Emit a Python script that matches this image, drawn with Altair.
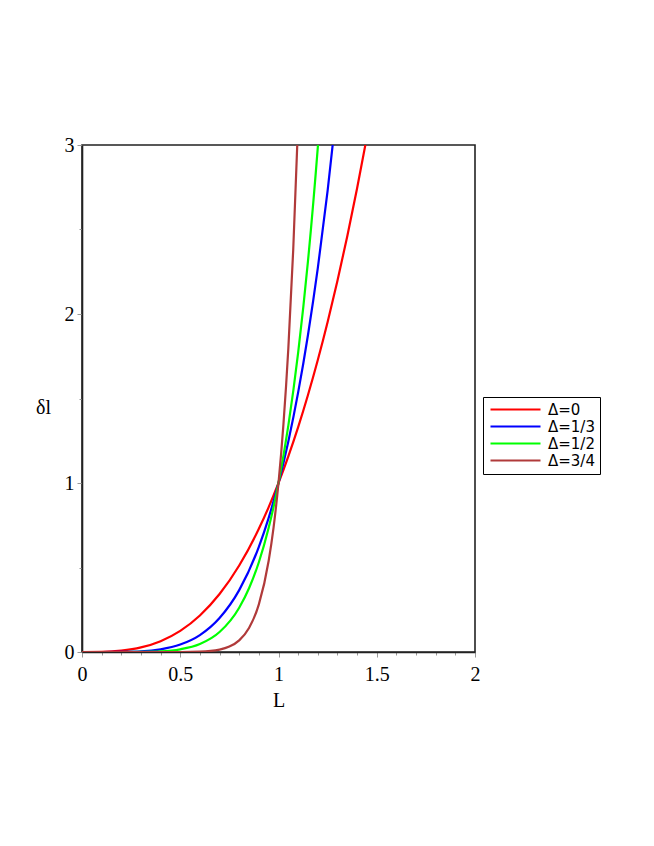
import altair as alt
import pandas as pd

# Values
red_L = [0.0, 0.1, 0.2, 0.3, 0.4, 0.5, 0.6, 0.7, 0.8, 0.9, 0.95, 1.0, 1.05, 1.1, 1.15, 1.2, 1.25, 1.3, 1.35, 1.4, 1.45]
red_v = [0.0, 0.001, 0.008, 0.027, 0.064, 0.125, 0.216, 0.343, 0.512, 0.729, 0.857, 1.0, 1.158, 1.331, 1.521, 1.728, 1.953, 2.197, 2.460, 2.744, 3.049]

blue_L = [0.0, 0.1, 0.2, 0.3, 0.4, 0.5, 0.6, 0.7, 0.8, 0.9, 0.95, 1.0, 1.05, 1.1, 1.15, 1.2, 1.25, 1.3]
blue_v = [0.0, 0.0, 0.001, 0.004, 0.016, 0.044, 0.100, 0.201, 0.366, 0.622, 0.794, 1.0, 1.246, 1.536, 1.876, 2.271, 2.730, 3.256]

green_L = [0.0, 0.1, 0.2, 0.3, 0.4, 0.5, 0.6, 0.7, 0.8, 0.85, 0.9, 0.95, 1.0, 1.05, 1.1, 1.15, 1.2, 1.22]
green_v = [0.0, 0.0, 0.0, 0.001, 0.004, 0.016, 0.047, 0.118, 0.262, 0.377, 0.531, 0.735, 1.0, 1.340, 1.772, 2.313, 2.986, 3.297]

brown_L = [0.0, 0.2, 0.4, 0.5, 0.6, 0.7, 0.75, 0.8, 0.85, 0.9, 0.95, 0.975, 1.0, 1.025, 1.05, 1.075, 1.1]
brown_v = [0.0, 0.0, 0.0, 0.0, 0.002, 0.014, 0.032, 0.069, 0.142, 0.282, 0.540, 0.738, 1.0, 1.345, 1.796, 2.382, 3.138]

series_names = ["Δ=0", "Δ=1/3", "Δ=1/2", "Δ=3/4"]
series_colors = ["#ff0000", "#0000ff", "#00ff00", "#b03a3a"]

x_ticks = [0.0, 0.1, 0.2, 0.3, 0.4, 0.5, 0.6, 0.7, 0.8, 0.9, 1.0, 1.1, 1.2, 1.3, 1.4, 1.5, 1.6, 1.7, 1.8, 1.9, 2.0]
y_ticks = [0.0, 0.5, 1.0, 1.5, 2.0, 2.5, 3.0]

rows = []
for name, Ls, vs in zip(series_names, [red_L, blue_L, green_L, brown_L], [red_v, blue_v, green_v, brown_v]):
    for L, v in zip(Ls, vs):
        rows.append({"L": L, "dl": v, "series": name})
df = pd.DataFrame(rows)

major_x = "abs(datum.value*2 - round(datum.value*2)) < 0.001"
major_y = "abs(datum.value - round(datum.value)) < 0.001"

chart = alt.Chart(df).mark_line(strokeWidth=2.2, clip=True, interpolate="monotone").encode(
    x=alt.X("L:Q", scale=alt.Scale(domain=[0, 2], nice=False),
            axis=alt.Axis(values=x_ticks, title="L",
                          labelExpr=f"{major_x} ? format(datum.value, '~g') : ''",
                          tickSize={"condition": {"test": major_x, "value": 5}, "value": 3},
                          labelPadding=7, titlePadding=6, labelFlush=False, labelOverlap=False)),
    y=alt.Y("dl:Q", scale=alt.Scale(domain=[0, 3], nice=False),
            axis=alt.Axis(values=y_ticks, title="δl",
                          labelExpr=f"{major_y} ? format(datum.value, 'd') : ''",
                          tickSize={"condition": {"test": major_y, "value": 5}, "value": 3},
                          labelPadding=3, titleAngle=0, titleX=-39, titleY=262,
                          titleAlign="center", titleBaseline="middle",
                          labelFlush=False, labelOverlap=False)),
    color=alt.Color("series:N", sort=series_names,
                    scale=alt.Scale(domain=series_names, range=series_colors),
                    legend=alt.Legend(title=None, orient="none", legendX=401, legendY=252,
                                      symbolType="M-1,0H9", symbolSize=100,
                                      symbolStrokeWidth=2.2, labelOffset=45,
                                      labelFont="DejaVu Sans", labelFontSize=15,
                                      labelColor="black",
                                      rowPadding=1, padding=5,
                                      strokeColor="black", fillColor="white")),
).properties(
    width=393, height=507,
    autosize=alt.AutoSizeParams(type="none"),
    padding={"left": 74, "top": 137, "right": 171, "bottom": 186},
).configure_view(
    stroke="#222222", strokeWidth=1.6
).configure_axis(
    grid=False,
    domainColor="#222222", domainWidth=1.6,
    tickColor="#999999", tickWidth=1,
    labelFont="Liberation Serif", labelFontSize=20, labelColor="black",
    titleFont="Liberation Serif", titleFontSize=20, titleFontWeight="normal", titleColor="black",
)

chart.save("out.html", embed_options={"renderer": "svg", "actions": False})
